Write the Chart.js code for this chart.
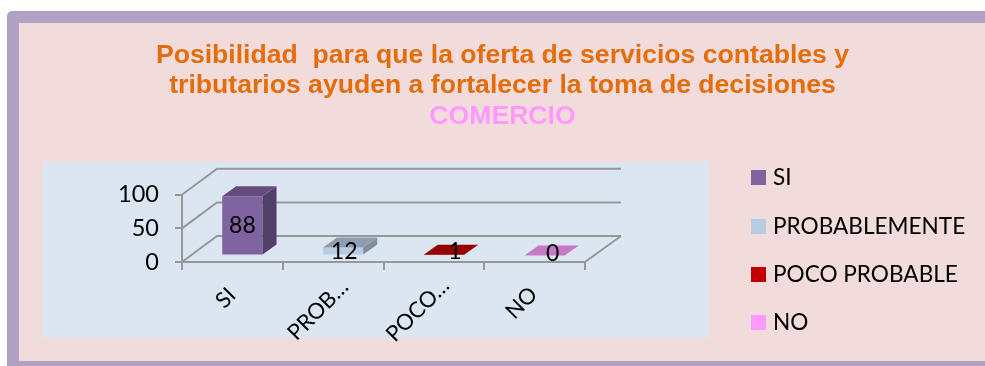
<!DOCTYPE html>
<html>
<head>
<meta charset="utf-8">
<script src="https://cdn.jsdelivr.net/npm/chart.js@4"></script>
<style>
html, body { margin: 0; padding: 0; background: #fff; overflow: hidden; }
#frame { position: absolute; left: 7px; top: 11px; width: 990px; height: 355px; box-sizing: border-box; background: #F2DCDB; border: 12px solid #B2A1C7; border-bottom-width: 5px; border-radius: 5px 0 0 0; }
#panel { position: absolute; left: 42px; top: 162px; width: 667px; height: 176px; background: #DCE6F2; }
#chart { position: absolute; left: 0; top: 0; }
</style>
</head>
<body>
<div id="frame"></div>
<div id="panel"></div>
<canvas id="chart" width="985" height="366"></canvas>
<script>
const categories = ["SI", "PROBABLEMENTE", "POCO PROBABLE", "NO"];
const shortLabels = ["SI", "PROB…", "POCO…", "NO"];
const values = [88, 12, 1, 0];
const yTicks = [0, 50, 100];

const frontColors = ["#8064A2", "#B8CCE4", "#C00000", "#FF99FF"];
const topColors = ["#644D7E", "#8E9EB1", "#960000", "#C679C6"];
const sideColors = ["#513F67", "#7F8E9F", "#800000", "#A866A8"];
const labelNudgeX = [0, 1, 11, 8];
const labelY = [226, 252, 252, 254];
const legendY = [178, 227, 275, 323];
const tickShiftX = [-6.6, -15, -16, -13];
const tickCenterY = [298, 310, 310, 303];

const wallX = 35, wallY = 26;     // depth of the floor and back wall
const barShiftX = 10, barShiftY = -6.5;
const barDepthX = 14, barDepthY = -10;
const textFont = "Lato";

function face(ctx, pts, color) {
    ctx.fillStyle = color;
    ctx.beginPath();
    ctx.moveTo(pts[0][0], pts[0][1]);
    for (let i = 1; i < pts.length; i++) ctx.lineTo(pts[i][0], pts[i][1]);
    ctx.closePath();
    ctx.fill();
}

const wallsPlugin = {
    id: "walls",
    beforeDatasetsDraw(chart) {
        const ctx = chart.ctx;
        const y = chart.scales.y;
        const area = chart.chartArea;
        ctx.save();
        ctx.strokeStyle = "#979797";
        ctx.lineWidth = 2;
        yTicks.forEach(function (t) {
            const py = y.getPixelForValue(t);
            ctx.beginPath();
            ctx.moveTo(area.left, py);
            ctx.lineTo(area.left + wallX, py - wallY);
            ctx.lineTo(area.right + wallX + 1, py - wallY);
            ctx.stroke();
        });
        ctx.beginPath();
        ctx.moveTo(area.right, area.bottom);
        ctx.lineTo(area.right + wallX + 1, area.bottom - wallY);
        ctx.stroke();
        ctx.restore();
        // bars stand in the middle of the floor, not on its front edge
        ctx.save();
        ctx.translate(barShiftX, barShiftY);
    },
    afterDatasetsDraw(chart) {
        const ctx = chart.ctx;
        ctx.restore();
        const bars = chart.getDatasetMeta(0).data;
        bars.forEach(function (b, i) {
            const l = b.x - b.width / 2 + barShiftX;
            const r = b.x + b.width / 2 + barShiftX;
            const t = b.y + barShiftY;
            const base = b.base + barShiftY;
            face(ctx, [[r, t], [r + barDepthX, t + barDepthY], [r + barDepthX, base + barDepthY], [r, base]], sideColors[i]);
            face(ctx, [[l, t], [l + barDepthX, t + barDepthY], [r + barDepthX, t + barDepthY], [r, t]], topColors[i]);
        });
        ctx.save();
        ctx.fillStyle = "#000";
        ctx.font = "23px " + textFont;
        ctx.textAlign = "center";
        ctx.textBaseline = "middle";
        bars.forEach(function (b, i) {
            ctx.fillText(String(values[i]), b.x + barShiftX + labelNudgeX[i], labelY[i]);
        });
        ctx.restore();
    },
    afterDraw(chart) {
        const ctx = chart.ctx;
        const x = chart.scales.x;
        ctx.save();
        ctx.font = "22.6px " + textFont;
        ctx.textBaseline = "middle";
        categories.forEach(function (name, i) {
            ctx.fillStyle = frontColors[i];
            ctx.fillRect(751, legendY[i] - 8, 15, 15);
            ctx.fillStyle = "#000";
            ctx.fillText(name, 773, legendY[i]);
        });
        // the truncated labels sit further along their slant than native ticks allow
        ctx.font = "22px " + textFont;
        ctx.textAlign = "center";
        shortLabels.forEach(function (name, i) {
            ctx.save();
            ctx.translate(x.getPixelForTick(i) + tickShiftX[i], tickCenterY[i]);
            ctx.rotate(-Math.PI / 4);
            ctx.fillText(name, 0, 0);
            ctx.restore();
        });
        ctx.restore();
    }
};

new Chart(document.getElementById("chart"), {
    type: "bar",
    data: {
        labels: shortLabels,
        datasets: [{
            data: values,
            backgroundColor: frontColors,
            barPercentage: 0.4,
            categoryPercentage: 1,
            clip: false
        }]
    },
    plugins: [wallsPlugin],
    options: {
        responsive: false,
        animation: false,
        layout: { padding: { left: 20, right: 0, top: 40, bottom: 0 } },
        plugins: {
            legend: { display: false },
            tooltip: { enabled: false },
            title: {
                display: true,
                text: ["Posibilidad  para que la oferta de servicios contables y", "tributarios ayuden a fortalecer la toma de decisiones"],
                color: "#E46C0A",
                font: { family: "Liberation Sans", size: 26.6, weight: "bold", lineHeight: 1.15 },
                padding: { top: 0, bottom: 0 }
            },
            subtitle: {
                display: true,
                text: "COMERCIO",
                color: "#FF99FF",
                font: { family: "Liberation Sans", size: 26.6, weight: "bold", lineHeight: 1.15 },
                padding: { top: 0, bottom: 63 }
            }
        },
        scales: {
            x: {
                grid: { drawOnChartArea: false, color: "#979797", lineWidth: 2, tickLength: 8 },
                border: { color: "#979797", width: 2 },
                ticks: { display: false },
                afterFit(scale) { scale.height = 104; }
            },
            y: {
                min: 0,
                max: 100,
                grid: { drawOnChartArea: false, color: "#979797", lineWidth: 2, tickLength: 7 },
                border: { color: "#979797", width: 2 },
                ticks: { color: "#000", font: { family: textFont, size: 23.5 }, stepSize: 50, padding: 16 },
                afterFit(scale) { scale.width = 162; }
            },
            spare: {
                position: "right",
                grid: { display: false },
                border: { display: false },
                ticks: { display: false },
                afterFit(scale) { scale.width = 400; }
            }
        }
    }
});
</script>
</body>
</html>
